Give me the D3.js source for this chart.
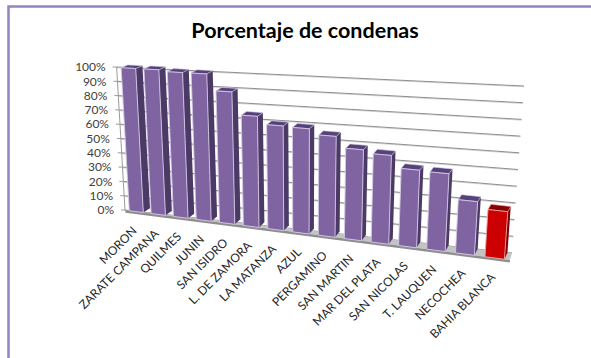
<!DOCTYPE html>
<html>
<head>
<meta charset="utf-8">
<script src="https://cdn.jsdelivr.net/npm/d3@7"></script>
<style>
  html, body { margin: 0; padding: 0; background: #fff; }
  svg { display: block; }
</style>
</head>
<body>
<svg id="chart" width="591" height="358"></svg>
<script>
// ---- data ----
const categories = ["MORON", "ZARATE CAMPANA", "QUILMES", "JUNIN", "SAN ISIDRO", "L. DE ZAMORA",
  "LA MATANZA", "AZUL", "PERGAMINO", "SAN MARTIN", "MAR DEL PLATA", "SAN NICOLAS",
  "T. LAUQUEN", "NECOCHEA", "BAHIA BLANCA"];
const values = [1.00, 1.00, 0.99, 0.99, 0.88, 0.73, 0.68, 0.675, 0.64, 0.57, 0.55, 0.475, 0.47, 0.32, 0.28];
const highlighted = ["BAHIA BLANCA"];
const yTicks = [0, 0.1, 0.2, 0.3, 0.4, 0.5, 0.6, 0.7, 0.8, 0.9, 1.0];
const titleText = "Porcentaje de condenas";

// ---- view / perspective setup ----
const W = 591, H = 358;
const svg = d3.select("#chart");
const FONT = "Lato, 'Open Sans', sans-serif";

// row position of each category (world units, one unit per category)
const band = d3.scaleBand().domain(categories).range([0, categories.length])
  .paddingInner(0.356).paddingOuter(0.178);
// value -> height at the front-left reference depth (px)
const yScale = d3.scaleLinear().domain([0, 1]).range([0, 143]);
const pct = d3.format(".0%");

// projective mapping of the floor front line (u in world units)
const P = { u0: 0.178, A: 0.01074, X0: 129.3, QX: 20.2, Y0: 210.7, QY: 0.528 };
function floorPoint(u) {
  const t = u - P.u0;
  const den = 1 - P.A * t;
  return { x: (P.X0 + P.QX * t) / den, y: (P.Y0 + P.QY * t) / den, s: 1 / den };
}
// vertical lines converge to a point far below the chart
const VP = { x: 300, y: 3200 };
function raise(b, h) {
  const lam = h / (VP.y - b.y);
  return { x: b.x + (b.x - VP.x) * lam, y: b.y + (b.y - VP.y) * lam };
}
// receding depth of each bar (side and top faces)
const depthDx = d3.scaleLinear().domain([0, categories.length - 1]).range([6.7, 3]);
const depthDyTop = d3.scaleLinear().domain([0, categories.length - 1]).range([2.8, 5.2]);

// back wall corners
const wallL = { x: 125, y: 210, k: 143 };
const wallR = { x: 512, y: 253, k: 167 };
function wallPoint(side, v) {
  return raise(side, side.k * v);
}

// ---- frame ----
svg.append("rect").attr("x", 0).attr("y", 0).attr("width", W).attr("height", H).attr("fill", "#fff");
svg.append("rect").attr("x", 8.5).attr("y", 6.5).attr("width", 640).attr("height", 420)
  .attr("fill", "#fff").attr("stroke", "#9584BF").attr("stroke-width", 2.5);

svg.append("text").attr("x", 305).attr("y", 38).attr("text-anchor", "middle")
  .attr("font-family", FONT).attr("font-weight", 700)
  .attr("font-size", 21.5).attr("fill", "#000").text(titleText);

// ---- back wall gridlines ----
const grid = svg.append("g");
yTicks.forEach(v => {
  const a = wallPoint(wallL, v), b = wallPoint(wallR, v);
  grid.append("line").attr("x1", a.x).attr("y1", a.y + 0.8).attr("x2", b.x).attr("y2", b.y + 0.8)
    .attr("stroke", "#D6D6D6").attr("stroke-width", 1);
  grid.append("line").attr("x1", a.x).attr("y1", a.y).attr("x2", b.x).attr("y2", b.y)
    .attr("stroke", "#8E8E8E").attr("stroke-width", 1);
});

// ---- value axis ----
const axis = svg.append("g");
const aTop = wallPoint(wallL, 1);
axis.append("line").attr("x1", wallL.x).attr("y1", wallL.y).attr("x2", aTop.x).attr("y2", aTop.y)
  .attr("stroke", "#9C9C9C").attr("stroke-width", 1);
yTicks.forEach(v => {
  const p = wallPoint(wallL, v);
  axis.append("line").attr("x1", p.x - 4).attr("y1", p.y).attr("x2", p.x).attr("y2", p.y)
    .attr("stroke", "#9C9C9C").attr("stroke-width", 1);
  axis.append("text").attr("x", p.x - 11).attr("y", p.y).attr("dy", "0.35em")
    .attr("text-anchor", "end").attr("font-family", FONT)
    .attr("font-size", 12).attr("fill", "#404040").text(pct(v));
});

// ---- floor ----
const fL = floorPoint(0), fR = floorPoint(categories.length);
svg.append("polygon")
  .attr("points", [[wallL.x, wallL.y], [wallR.x, wallR.y], [fR.x, fR.y], [fL.x, fL.y]].map(p => p.join(",")).join(" "))
  .attr("fill", "#C4C4C4");
svg.append("polygon")
  .attr("points", [[fL.x, fL.y], [fR.x, fR.y], [fR.x, fR.y + 2.5], [fL.x, fL.y + 2.5]].map(p => p.join(",")).join(" "))
  .attr("fill", "#8E8E8E");

// ---- bars ----
const bars = svg.append("g");
categories.forEach((c, i) => {
  const u = band(c);
  const bl = floorPoint(u), br = floorPoint(u + band.bandwidth());
  const tl = raise(bl, yScale(values[i]) * bl.s);
  const tr = raise(br, yScale(values[i]) * br.s);
  const dx = depthDx(i), dyT = depthDyTop(i), dyB = dyT + 1.5;
  const red = highlighted.includes(c);
  const col = red ? { f: "#CC0000", s: "#7E0000", t: "#8A0000", e: "#E8A0A0" }
                  : { f: "#8064A2", s: "#4B3A66", t: "#55427A", e: "#D2C8E2" };
  const pts = a => a.map(p => p.x + "," + p.y).join(" ");
  // side face
  bars.append("polygon").attr("points", pts([tr, { x: tr.x + dx, y: tr.y - dyT }, { x: br.x + dx, y: br.y - dyB }, br]))
    .attr("fill", col.s);
  // top face
  bars.append("polygon").attr("points", pts([tl, tr, { x: tr.x + dx, y: tr.y - dyT }, { x: tl.x + dx, y: tl.y - dyT }]))
    .attr("fill", col.t).attr("stroke", col.e).attr("stroke-width", 0.6);
  // front face
  bars.append("polygon").attr("points", pts([bl, br, tr, tl]))
    .attr("fill", col.f).attr("stroke", col.e).attr("stroke-width", 0.9);
  // category label
  const cx = (bl.x + br.x) / 2 + 1.3, cy = (bl.y + br.y) / 2 + 20;
  svg.append("text").attr("transform", `translate(${cx},${cy}) rotate(-45)`)
    .attr("text-anchor", "end").attr("font-family", FONT)
    .attr("font-size", 12).attr("fill", "#262626").text(c);
});
</script>
</body>
</html>
